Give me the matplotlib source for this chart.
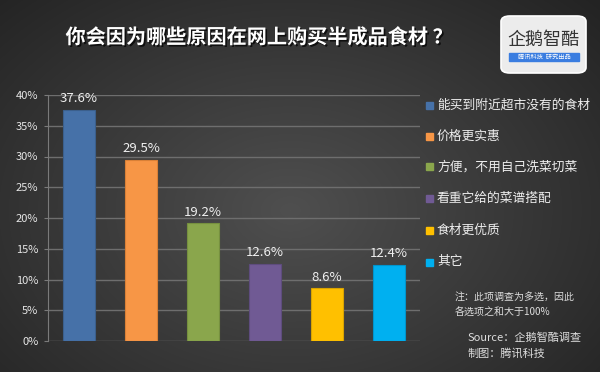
import numpy as np
import matplotlib
matplotlib.use("Agg")
import matplotlib.pyplot as plt
import matplotlib.patheffects as pe
from matplotlib.patches import FancyBboxPatch, Rectangle

plt.rcParams['font.family'] = ['Noto Sans CJK SC', 'DejaVu Sans']

title = "你会因为哪些原因在网上购买半成品食材 ？"
categories = ["能买到附近超市没有的食材", "价格更实惠", "方便，不用自己洗菜切菜",
              "看重它给的菜谱搭配", "食材更优质", "其它"]
values = [37.6, 29.5, 19.2, 12.6, 8.6, 12.4]
colors = ["#4671a8", "#f79646", "#8aa64c", "#705a94", "#ffc000", "#00b0f0"]
yticks = [0, 5, 10, 15, 20, 25, 30, 35, 40]
note_lines = ["注：此项调查为多选，因此", "各选项之和大于100%"]
source_lines = ["Source：企鹅智酷调查", "制图：腾讯科技"]

W, H = 600, 372
fig = plt.figure(figsize=(6, 3.72), dpi=100)

# background radial gradient
bg = fig.add_axes([0, 0, 1, 1], zorder=-10)
yy, xx = np.mgrid[0:H, 0:W]
d = np.sqrt(((xx - 290) / 420.0) ** 2 + ((yy - 210) / 300.0) ** 2)
lvl = np.clip(0.31 - 0.17 * d, 0.11, 0.31)
img = np.dstack([lvl, lvl, lvl])
bg.imshow(img, aspect='auto', extent=[0, 1, 0, 1], origin='upper')
bg.set_xlim(0, 1); bg.set_ylim(0, 1)
bg.axis('off')

ax = fig.add_axes([48 / W, 1 - 341 / H, 372 / W, (341 - 95) / H])
ax.patch.set_alpha(0)
x = np.arange(len(values))
ax.bar(x, values, width=0.515, color=colors, edgecolor=[
    "#3b5f8c", "#d98036", "#76903f", "#5e4c7e", "#d9a300", "#0094cc"], linewidth=0.8, zorder=3)
for xi, v in zip(x, values):
    ax.text(xi, v + 0.7, f"{v}%", ha='center', va='bottom', color='#f0f0f0', fontsize=9.5)

ax.set_ylim(0, 40)
ax.set_xlim(-0.5, 5.5)
ax.set_yticks(yticks)
ax.set_yticklabels([f"{t}%" for t in yticks], color='#e6e6e6', fontsize=8)
ax.set_xticks([])
ax.grid(axis='y', color='#6e6e6e', linewidth=1, zorder=0)
ax.tick_params(axis='y', length=3, color='#7a7a7a', pad=4)
for s in ['top', 'right', 'bottom']:
    ax.spines[s].set_visible(False)
ax.spines['left'].set_color('#7a7a7a')

# legend
leg_y = [105, 136, 167, 198, 230, 262]
for c, lab, yp in zip(colors, categories, leg_y):
    fig.patches.append(Rectangle((426 / W, 1 - (yp + 3.5) / H), 7 / W, 7 / H,
                                 transform=fig.transFigure, color=c))
    fig.text(437 / W, 1 - yp / H, lab, color='#eeeeee', fontsize=9.2, va='center', ha='left')

# title
fig.text(259 / W, 1 - 37 / H, title, color='#ffffff', fontsize=14.5, fontweight='bold',
         ha='center', va='center',
         path_effects=[pe.withSimplePatchShadow(offset=(1.2, -1.2), shadow_rgbFace='black', alpha=0.7)])

# notes
fig.text(455 / W, 1 - 297 / H, note_lines[0], color='#dddddd', fontsize=7.2, va='center', style='italic')
fig.text(455 / W, 1 - 313 / H, note_lines[1], color='#dddddd', fontsize=7.2, va='center', style='italic')
fig.text(468 / W, 1 - 338 / H, source_lines[0], color='#dddddd', fontsize=8, va='center', style='italic')
fig.text(468 / W, 1 - 353 / H, source_lines[1], color='#dddddd', fontsize=8, va='center', style='italic')

# logo
fig.patches.append(FancyBboxPatch((501 / W, 1 - 73 / H), 85 / W, 57 / H,
                                  boxstyle="round,pad=0,rounding_size=0.015",
                                  transform=fig.transFigure, facecolor='#ececec',
                                  edgecolor='#ffffff', linewidth=1.2))
fig.text(543 / W, 1 - 40 / H, "企鹅智酷", color='#333333', fontsize=13, ha='center', va='center')
fig.patches.append(Rectangle((509 / W, 1 - 61 / H), 70 / W, 8 / H,
                             transform=fig.transFigure, color='#3a7de0'))
fig.text(544 / W, 1 - 57 / H, "腾讯科技  研究出品", color='#ffffff', fontsize=4.5,
         ha='center', va='center')

fig.savefig("out.png", dpi=100)
